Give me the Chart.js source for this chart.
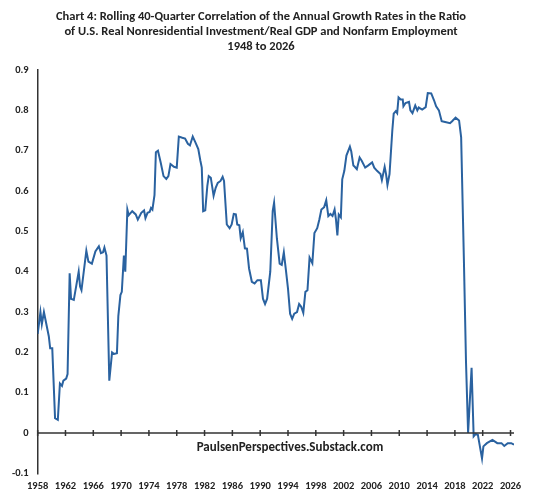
<!DOCTYPE html>
<html>
<head>
<meta charset="utf-8">
<script src="https://cdn.jsdelivr.net/npm/chart.js@4/dist/chart.umd.min.js"></script>
<style>
  body { margin: 0; background: #fff; }
  #wrap { width: 536px; height: 500px; position: relative; }
</style>
</head>
<body>
<div id="wrap"><canvas id="c"></canvas></div>
<script>
// values (decimal year, correlation)
const years = [
  1958.0, 1958.4, 1958.6, 1958.9, 1959.6, 1959.8, 1960.1, 1960.5, 1960.9, 1961.2, 1961.5, 1961.7,
  1962.1, 1962.3, 1962.6, 1962.8, 1963.2, 1963.9, 1964.1, 1964.3, 1965.0, 1965.3, 1965.8, 1966.3,
  1966.8, 1967.1, 1967.4, 1967.6, 1967.9, 1968.3, 1968.7, 1969.0, 1969.4, 1969.6, 1969.9, 1970.1,
  1970.4, 1970.6, 1970.9, 1971.1, 1971.6, 1972.1, 1972.4, 1972.9, 1973.3, 1973.5, 1973.8, 1974.1,
  1974.3, 1974.5, 1974.8, 1975.0, 1975.3, 1975.7, 1976.1, 1976.5, 1976.8, 1977.1, 1977.6, 1978.0,
  1978.3, 1978.8, 1979.2, 1979.6, 1979.9, 1980.3, 1980.7, 1981.1, 1981.4, 1981.6, 1981.8, 1982.1,
  1982.4, 1982.6, 1982.9, 1983.3, 1983.6, 1983.9, 1984.3, 1984.6, 1984.8, 1985.2, 1985.6, 1985.9,
  1986.2, 1986.5, 1986.7, 1987.0, 1987.2, 1987.5, 1987.8, 1988.1, 1988.4, 1988.8, 1989.2, 1989.6,
  1990.1, 1990.4, 1990.7, 1991.0, 1991.45, 1991.8, 1992.0, 1992.4, 1992.8, 1993.1, 1993.4, 1993.7,
  1994.0, 1994.3, 1994.6, 1994.9, 1995.3, 1995.6, 1995.9, 1996.2, 1996.5, 1996.8, 1997.1, 1997.5,
  1997.8, 1998.2, 1998.5, 1998.8, 1999.2, 1999.5, 1999.8, 2000.1, 2000.4, 2000.7, 2000.9, 2001.1,
  2001.3, 2001.6, 2001.8, 2002.1, 2002.4, 2002.9, 2003.1, 2003.4, 2003.6, 2003.9, 2004.3, 2004.6,
  2005.1, 2005.5, 2006.1, 2006.4, 2006.8, 2007.3, 2007.5, 2007.9, 2008.1, 2008.3, 2008.6, 2009.0,
  2009.2, 2009.5, 2009.7, 2009.9, 2010.2, 2010.5, 2010.6, 2010.9, 2011.4, 2011.6, 2011.9, 2012.3,
  2012.6, 2012.8, 2013.3, 2013.8, 2014.1, 2014.6, 2015.0, 2015.3, 2015.7, 2016.1, 2016.6, 2017.3,
  2017.6, 2018.1, 2018.6, 2018.9, 2019.3, 2019.6, 2019.9, 2020.4, 2020.7, 2021.0, 2021.3, 2021.9,
  2022.1, 2022.6, 2023.4, 2024.1, 2024.7, 2025.1, 2025.6, 2026.1, 2026.5
];
const correlation = [
  0.246, 0.30, 0.27, 0.30, 0.24, 0.21, 0.21, 0.037, 0.033, 0.123, 0.117, 0.13,
  0.135, 0.146, 0.396, 0.333, 0.33, 0.40, 0.363, 0.354, 0.452, 0.425, 0.42, 0.45,
  0.463, 0.446, 0.448, 0.46, 0.44, 0.13, 0.20, 0.196, 0.198, 0.29, 0.342, 0.35,
  0.44, 0.40, 0.554, 0.54, 0.55, 0.542, 0.529, 0.546, 0.552, 0.533, 0.546, 0.548,
  0.558, 0.554, 0.59, 0.696, 0.70, 0.67, 0.637, 0.63, 0.637, 0.667, 0.66, 0.658,
  0.735, 0.732, 0.73, 0.717, 0.713, 0.735, 0.72, 0.704, 0.675, 0.658, 0.55, 0.552,
  0.613, 0.637, 0.633, 0.588, 0.608, 0.62, 0.625, 0.635, 0.625, 0.517, 0.508, 0.517,
  0.543, 0.542, 0.517, 0.515, 0.483, 0.498, 0.458, 0.457, 0.408, 0.375, 0.371, 0.379,
  0.379, 0.333, 0.32, 0.333, 0.40, 0.55, 0.571, 0.483, 0.42, 0.417, 0.448, 0.404,
  0.358, 0.296, 0.283, 0.296, 0.30, 0.32, 0.313, 0.298, 0.35, 0.354, 0.435, 0.421,
  0.496, 0.508, 0.529, 0.554, 0.56, 0.577, 0.538, 0.543, 0.538, 0.554, 0.529, 0.49,
  0.542, 0.535, 0.629, 0.65, 0.688, 0.71, 0.698, 0.663, 0.66, 0.654, 0.683, 0.675,
  0.658, 0.663, 0.671, 0.658, 0.65, 0.642, 0.627, 0.66, 0.642, 0.615, 0.642, 0.75,
  0.792, 0.798, 0.793, 0.832, 0.827, 0.827, 0.81, 0.818, 0.821, 0.80, 0.793, 0.812,
  0.80, 0.807, 0.802, 0.808, 0.843, 0.842, 0.825, 0.81, 0.80, 0.773, 0.771, 0.768,
  0.773, 0.782, 0.775, 0.733, 0.425, 0.175, 0.0, 0.162, -0.008, -0.002, -0.004, -0.063,
  -0.033, -0.025, -0.017, -0.025, -0.025, -0.032, -0.025, -0.025, -0.029
];
const tickYears = [1958, 1962, 1966, 1970, 1974, 1978, 1982, 1986, 1990, 1994, 1998, 2002, 2006, 2010, 2014, 2018, 2022, 2026];
const titleLines = [
  'Chart 4: Rolling 40-Quarter Correlation of the Annual Growth Rates in the Ratio',
  'of U.S. Real Nonresidential Investment/Real GDP and Nonfarm Employment',
  '1948 to 2026'
];
const watermark = 'PaulsenPerspectives.Substack.com';

const FONT = 'Calibri, Carlito, "Open Sans", sans-serif';
const INK = '#222';

// draws the zero line with its tick marks, plus the source text
const zeroAxis = {
  id: 'zeroAxis',
  afterDatasetsDraw(chart) {
    const { ctx, scales: { x, y }, chartArea } = chart;
    const y0 = y.getPixelForValue(0);
    ctx.save();
    ctx.strokeStyle = '#333';
    ctx.lineWidth = 1.5;
    ctx.beginPath();
    ctx.moveTo(chartArea.left, y0);
    ctx.lineTo(chartArea.right, y0);
    tickYears.forEach(t => {
      const px = x.getPixelForValue(t);
      ctx.moveTo(px, y0 - 3);
      ctx.lineTo(px, y0 + 3);
    });
    ctx.stroke();
    ctx.fillStyle = INK;
    ctx.font = 'bold 13px ' + FONT;
    ctx.textAlign = 'center';
    ctx.textBaseline = 'middle';
    ctx.fillText(watermark, 290, y0 + 15);
    ctx.restore();
  }
};

new Chart(document.getElementById('c'), {
  type: 'line',
  data: {
    datasets: [{
      data: years.map((yr, i) => ({ x: yr, y: correlation[i] })),
      borderColor: '#2a62a0',
      borderWidth: 2,
      pointRadius: 0,
      tension: 0,
      fill: false
    }]
  },
  options: {
    responsive: true,
    maintainAspectRatio: false,
    animation: false,
    layout: { padding: { top: 7, right: 22, bottom: 0, left: 8 } },
    plugins: {
      legend: { display: false },
      tooltip: { enabled: false },
      title: {
        display: true,
        text: titleLines,
        color: INK,
        font: { size: 12.5, weight: 'bold', family: FONT },
        padding: { top: 2, bottom: 16 },
        lineHeight: 1.3
      }
    },
    scales: {
      x: {
        type: 'linear',
        min: 1958,
        max: 2026.5,
        afterBuildTicks: axis => { axis.ticks = tickYears.map(v => ({ value: v })); },
        grid: { display: false, drawTicks: false },
        border: { display: false },
        ticks: {
          color: INK,
          maxRotation: 0,
          autoSkip: false,
          padding: 7,
          font: { size: 10.5, weight: 'bold', family: FONT },
          callback: v => String(v)
        }
      },
      y: {
        min: -0.1,
        max: 0.9,
        afterBuildTicks: axis => {
          axis.ticks = [-0.1, 0, 0.1, 0.2, 0.3, 0.4, 0.5, 0.6, 0.7, 0.8, 0.9].map(v => ({ value: v }));
        },
        grid: { display: false, drawOnChartArea: false, drawTicks: true, tickLength: 5, color: '#333', lineWidth: 1.5 },
        border: { display: true, color: '#333', width: 1.5 },
        ticks: {
          color: INK,
          padding: 4,
          font: { size: 10.5, weight: 'bold', family: FONT },
          callback: v => (Math.abs(v) < 1e-9 ? '0' : v.toFixed(1))
        }
      }
    }
  },
  plugins: [zeroAxis]
});
</script>
</body>
</html>
